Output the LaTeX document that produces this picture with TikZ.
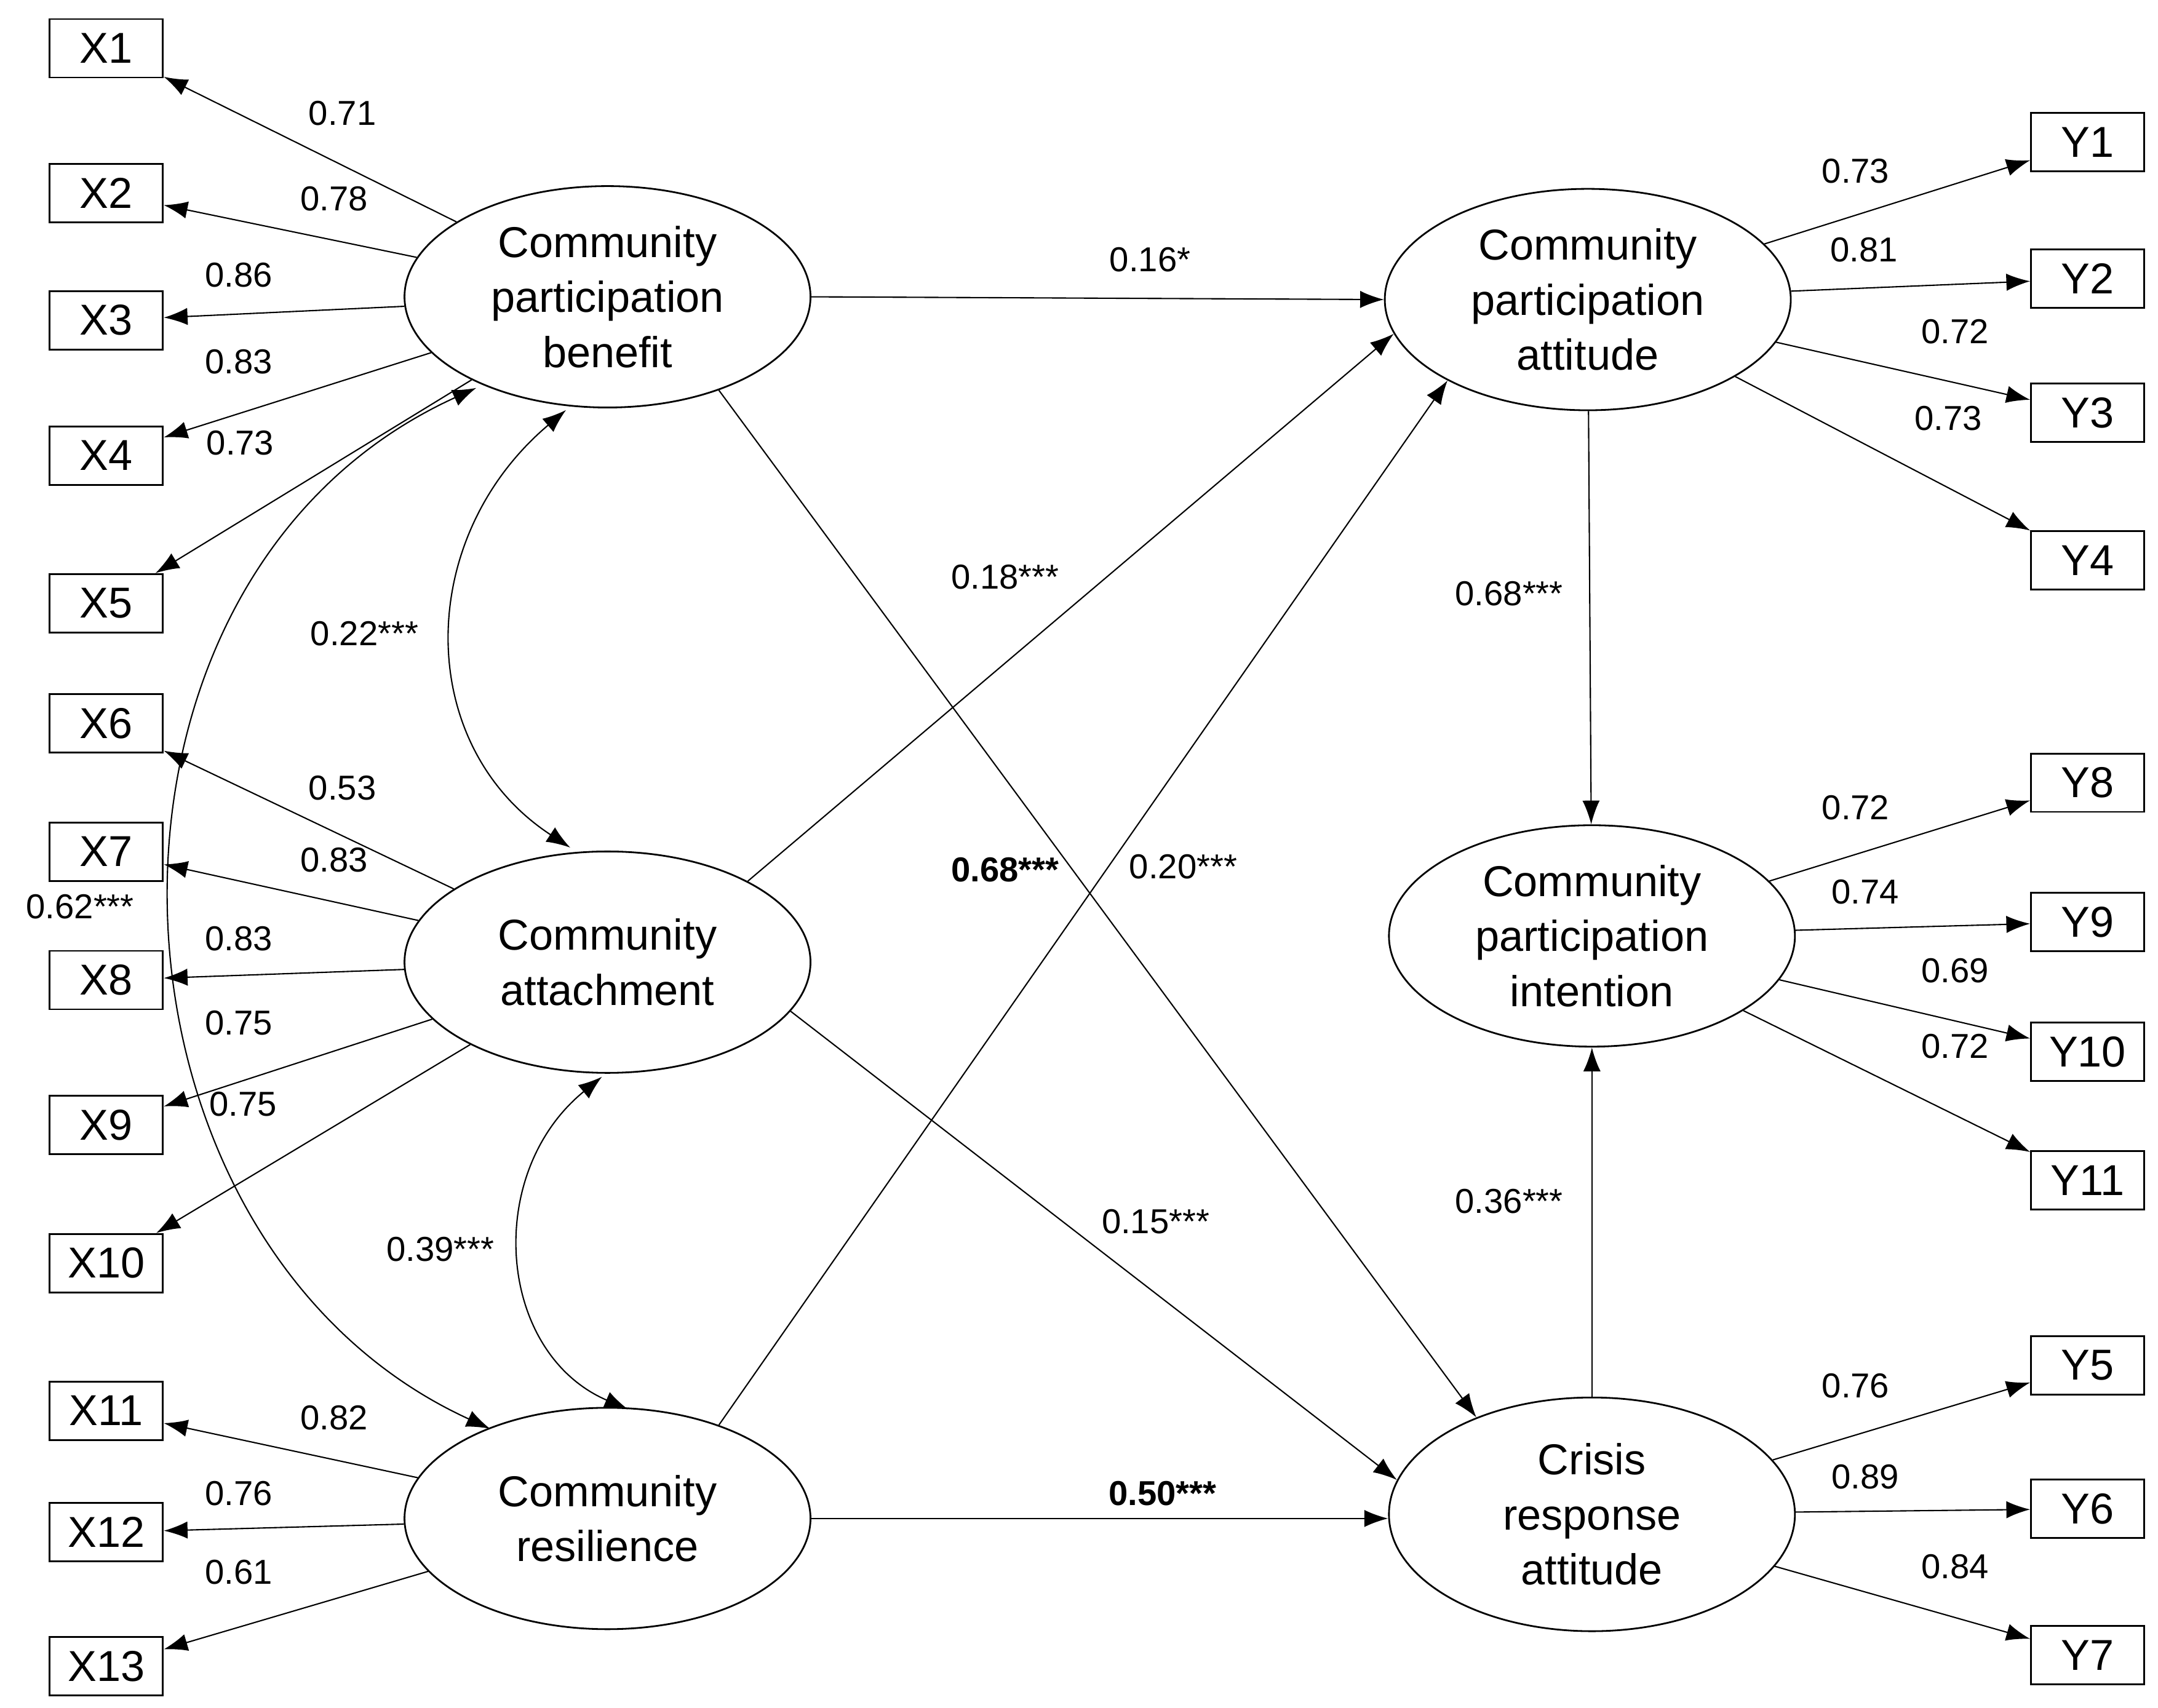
\documentclass[tikz,border=0pt]{standalone}
\usepackage{fontspec}
\setmainfont{Liberation Sans}
\usetikzlibrary{arrows.meta,shapes.geometric}
\begin{document}
\begin{tikzpicture}[x=0.02245cm,y=-0.02245cm,
 box/.style={draw,line width=0.8pt,minimum width=1.84cm,minimum height=0.95cm,font=\fontsize{20}{24}\selectfont,inner sep=0pt},
 lat/.style={draw,ellipse,line width=0.8pt,minimum width=6.6cm,minimum height=3.6cm,align=center,font=\fontsize{20}{25.5}\selectfont,inner sep=0pt},
 ar/.style={-{Latex[length=11pt,width=8pt]},line width=0.6pt},
 ca/.style={{Latex[length=11pt,width=8pt]}-{Latex[length=11pt,width=8pt]},line width=0.6pt},
 lb/.style={font=\fontsize{16}{18}\selectfont,inner sep=0pt},
 bl/.style={font=\bfseries\fontsize{16}{18}\selectfont,inner sep=0pt}]
\useasboundingbox (0,0) rectangle (1563,1237);
\foreach \n/\y in {1/35,2/140,3/232,4/330,5/437,6/524,7/617,8/710,9/815,10/915,11/1022,12/1110,13/1207}
  \node[box] (x\n) at (77,\y) {X\n};
\foreach \n/\y in {1/103,2/202,3/299,4/406,8/567,9/668,10/762,11/855,5/989,6/1093,7/1199}
  \node[box] (y\n) at (1512,\y) {Y\n};
\node[lat] (cpb) at (440,215) {Community\\participation\\benefit};
\node[lat] (ca) at (440,697) {Community\\attachment};
\node[lat] (cr) at (440,1100) {Community\\resilience};
\node[lat] (cpa) at (1150,217) {Community\\participation\\attitude};
\node[lat] (cpi) at (1153,678) {Community\\participation\\intention};
\node[lat,minimum height=3.8cm] (cra) at (1153,1097) {Crisis\\response\\attitude};
\foreach \n in {1,...,5} \draw[ar] (cpb) -- (x\n);
\foreach \n in {6,...,10} \draw[ar] (ca) -- (x\n);
\foreach \n in {11,12,13} \draw[ar] (cr) -- (x\n);
\foreach \n in {1,...,4} \draw[ar] (cpa) -- (y\n);
\foreach \n in {8,...,11} \draw[ar] (cpi) -- (y\n);
\foreach \n in {5,6,7} \draw[ar] (cra) -- (y\n);
\draw[ar] (cpb.east) -- (cpa.west);
\draw[ar] (cr.east) -- (cr.east -| cra.west);
\draw[ar] (cpb.-40) -- (cra.140);
\draw[ar] (ca.30) -- (cpa.190);
\draw[ar] (cr.40) -- (cpa.210);
\draw[ar] (ca.-15) -- (cra.170);
\draw[ar] (cpa) -- (cpi);
\draw[ar] (cra) -- (cpi);
\coordinate (c1a) at (410,297); \coordinate (c1b) at (413,614);
\coordinate (c2a) at (436,780); \coordinate (c2b) at (455,1021);
\coordinate (c3a) at (345,281); \coordinate (c3b) at (355,1035);
\draw[ca] (c1a) .. controls (300,390) and (300,540) .. (c1b);
\draw[ca] (c2a) .. controls (350,850) and (360,980) .. (c2b);
\draw[ca] (c3a) .. controls (40,420) and (60,900) .. (c3b);
\node[lb] at (248,82) {0.71}; \node[lb] at (242,144) {0.78};
\node[lb] at (173,199) {0.86}; \node[lb] at (173,262) {0.83};
\node[lb] at (174,321) {0.73}; \node[lb] at (264,459) {0.22***};
\node[lb] at (248,571) {0.53}; \node[lb] at (242,623) {0.83};
\node[lb] at (173,680) {0.83}; \node[lb] at (173,741) {0.75};
\node[lb] at (176,800) {0.75}; \node[lb] at (58,657) {0.62***};
\node[lb] at (319,905) {0.39***}; \node[lb] at (242,1027) {0.82};
\node[lb] at (173,1082) {0.76}; \node[lb] at (173,1139) {0.61};
\node[lb] at (1344,124) {0.73}; \node[lb] at (1350,181) {0.81};
\node[lb] at (1416,240) {0.72}; \node[lb] at (1411,303) {0.73};
\node[lb] at (1344,585) {0.72}; \node[lb] at (1351,646) {0.74};
\node[lb] at (1416,703) {0.69}; \node[lb] at (1416,758) {0.72};
\node[lb] at (1344,1004) {0.76}; \node[lb] at (1351,1070) {0.89};
\node[lb] at (1416,1135) {0.84};
\node[lb] at (833,188) {0.16*}; \node[lb] at (728,418) {0.18***};
\node[bl] at (728,630) {0.68***}; \node[lb] at (857,628) {0.20***};
\node[lb] at (837,885) {0.15***}; \node[bl] at (842,1082) {0.50***};
\node[lb] at (1093,430) {0.68***}; \node[lb] at (1093,870) {0.36***};
\end{tikzpicture}
\end{document}
